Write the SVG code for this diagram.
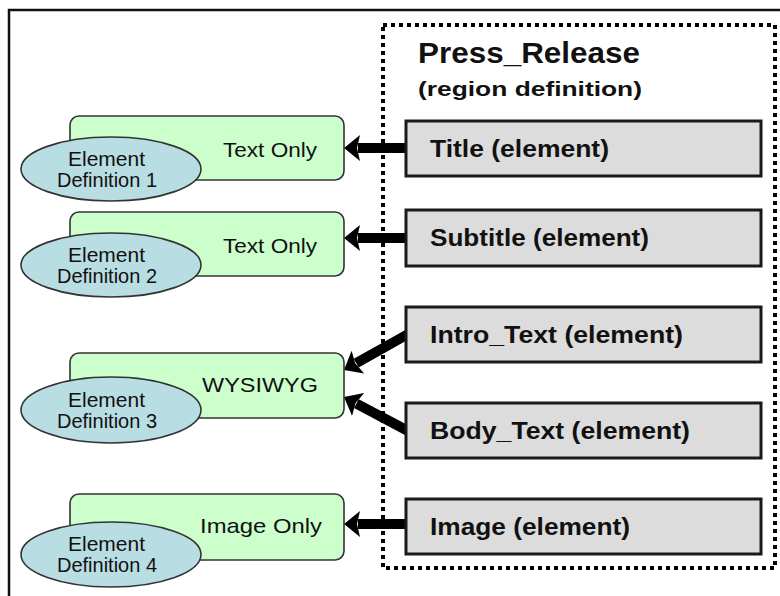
<svg xmlns="http://www.w3.org/2000/svg" width="780" height="596" viewBox="0 0 780 596">
<style>
.frame{stroke:#111;stroke-width:2.5;fill:none}
.region{fill:none;stroke:#000;stroke-width:4;stroke-dasharray:4 4}
.def{fill:#ccffcc;stroke:#333;stroke-width:1.6}
.ell{fill:#b8dde2;stroke:#333;stroke-width:1.6}
.el{fill:#dcdcdc;stroke:#1a1a1a;stroke-width:3}
.t{font-family:"Liberation Sans",Arial,sans-serif;fill:#111}
.n{font-size:21px}
.b{font-size:23px;font-weight:bold}
.conn{stroke:#000;stroke-width:10;fill:none;marker-end:url(#ah)}
</style>
<defs>
<marker id="ah" viewBox="0 0 16 26" markerWidth="16" markerHeight="26" markerUnits="userSpaceOnUse" refX="2" refY="13" orient="auto">
<path d="M0,0 L16,13 L0,26 L3,13 Z" fill="#000"/>
</marker>
</defs>
<rect width="780" height="596" fill="#fff"/>
<path class="frame" d="M9,596 L9,10 L780,10"/>

<g id="region">
<rect class="region" x="383" y="25" width="392" height="543"/>
<text class="t" x="418" y="63" font-size="29" font-weight="bold" textLength="222" lengthAdjust="spacingAndGlyphs">Press_Release</text>
<text class="t" x="418" y="96" font-size="21" font-weight="bold" textLength="224" lengthAdjust="spacingAndGlyphs">(region definition)</text>
</g>

<g id="connectors">
<line class="conn" x1="410" y1="148" x2="358" y2="148"/>
<line class="conn" x1="410" y1="238" x2="358" y2="238"/>
<line class="conn" x1="410" y1="333" x2="356.2" y2="363.1"/>
<line class="conn" x1="410" y1="432" x2="356.4" y2="403.6"/>
<line class="conn" x1="410" y1="524" x2="358" y2="524"/>
</g>

<g id="el-title">
<rect class="el" x="406" y="121" width="355" height="55"/>
<text class="t b" x="430" y="157" textLength="179" lengthAdjust="spacingAndGlyphs">Title (element)</text>
</g>
<g id="el-subtitle">
<rect class="el" x="406" y="210" width="355" height="56"/>
<text class="t b" x="430" y="246" textLength="219" lengthAdjust="spacingAndGlyphs">Subtitle (element)</text>
</g>
<g id="el-intro">
<rect class="el" x="406" y="307" width="355" height="55"/>
<text class="t b" x="430" y="343" textLength="253" lengthAdjust="spacingAndGlyphs">Intro_Text (element)</text>
</g>
<g id="el-body">
<rect class="el" x="406" y="403" width="355" height="55"/>
<text class="t b" x="430" y="439" textLength="260" lengthAdjust="spacingAndGlyphs">Body_Text (element)</text>
</g>
<g id="el-image">
<rect class="el" x="406" y="499" width="355" height="55"/>
<text class="t b" x="430" y="535" textLength="200" lengthAdjust="spacingAndGlyphs">Image (element)</text>
</g>

<g id="def1">
<rect class="def" x="70" y="116" width="274" height="64" rx="9"/>
<text class="t n" x="223" y="157" textLength="94" lengthAdjust="spacingAndGlyphs">Text Only</text>
<ellipse class="ell" cx="111" cy="169" rx="90" ry="32"/>
<text class="t n" x="68" y="166" textLength="77" lengthAdjust="spacingAndGlyphs">Element</text>
<text class="t n" x="57" y="187" textLength="100" lengthAdjust="spacingAndGlyphs">Definition 1</text>
</g>
<g id="def2">
<rect class="def" x="70" y="212" width="274" height="64" rx="9"/>
<text class="t n" x="223" y="253" textLength="94" lengthAdjust="spacingAndGlyphs">Text Only</text>
<ellipse class="ell" cx="111" cy="265" rx="90" ry="32"/>
<text class="t n" x="68" y="262" textLength="77" lengthAdjust="spacingAndGlyphs">Element</text>
<text class="t n" x="57" y="283" textLength="100" lengthAdjust="spacingAndGlyphs">Definition 2</text>
</g>
<g id="def3">
<rect class="def" x="70" y="353" width="274" height="65" rx="9"/>
<text class="t n" x="202" y="392" textLength="116" lengthAdjust="spacingAndGlyphs">WYSIWYG</text>
<ellipse class="ell" cx="111" cy="410" rx="90" ry="33"/>
<text class="t n" x="68" y="407" textLength="77" lengthAdjust="spacingAndGlyphs">Element</text>
<text class="t n" x="57" y="428" textLength="100" lengthAdjust="spacingAndGlyphs">Definition 3</text>
</g>
<g id="def4">
<rect class="def" x="70" y="494" width="274" height="66" rx="9"/>
<text class="t n" x="200" y="533" textLength="122" lengthAdjust="spacingAndGlyphs">Image Only</text>
<ellipse class="ell" cx="111" cy="554.5" rx="90" ry="32.5"/>
<text class="t n" x="68" y="551" textLength="77" lengthAdjust="spacingAndGlyphs">Element</text>
<text class="t n" x="57" y="572" textLength="100" lengthAdjust="spacingAndGlyphs">Definition 4</text>
</g>
</svg>
